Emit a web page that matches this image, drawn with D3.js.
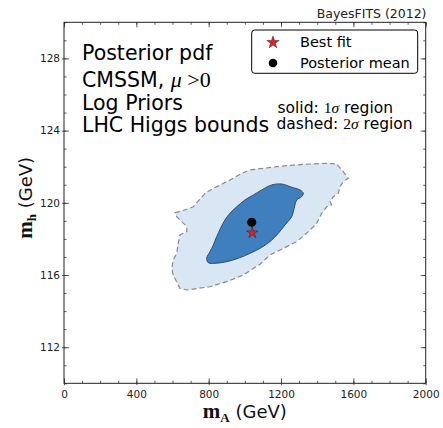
<!DOCTYPE html>
<html>
<head>
<meta charset="utf-8">
<script src="https://cdn.jsdelivr.net/npm/d3@7"></script>
<style>
  html, body { margin: 0; padding: 0; background: #fff; }
  svg { display: block; }
</style>
</head>
<body>
<svg id="chart" width="443" height="428"></svg>
<script>
// ---------- DATA ----------
const xDomain = [0, 2000];
const yDomain = [110, 130];
const xTickValues = [0, 400, 800, 1200, 1600, 2000];
const yTickValues = [112, 116, 120, 124, 128];
const xMinorTicks = d3.range(0, 2001, 100);
const yMinorTicks = d3.range(110, 130.1, 1);

// 2 sigma region outline (mA, mh)
const outerMA = [614, 679, 715, 780, 826, 918, 983, 1029, 1176, 1268, 1360, 1453, 1508, 1536, 1572, 1544, 1526, 1517, 1489, 1471, 1480, 1453, 1425, 1397, 1351, 1287, 1213, 1139, 1084, 991, 900, 807, 679, 641, 604, 596, 604, 623, 632, 641, 679, 679, 623];
const outerMh = [119.45, 119.64, 119.78, 120.53, 120.80, 121.26, 121.63, 121.82, 122.00, 122.09, 122.15, 122.19, 122.15, 121.82, 121.36, 121.17, 120.89, 120.53, 120.34, 120.06, 119.88, 119.78, 119.42, 118.86, 118.40, 117.85, 117.48, 117.11, 116.60, 116.00, 115.63, 115.35, 115.17, 115.26, 116.00, 116.37, 116.83, 117.20, 117.76, 118.22, 118.40, 118.68, 119.23];

// 1 sigma region outline (mA, mh)
const innerMA = [1149, 1204, 1259, 1305, 1323, 1314, 1287, 1277, 1268, 1259, 1222, 1185, 1139, 1084, 1029, 964, 900, 835, 798, 789, 807, 826, 844, 890, 918, 955, 1001, 1047, 1093];
const innerMh = [120.99, 121.04, 120.86, 120.71, 120.53, 120.34, 120.16, 119.88, 119.51, 119.23, 118.77, 118.31, 117.85, 117.48, 117.20, 116.93, 116.74, 116.65, 116.68, 116.93, 117.29, 117.66, 118.12, 119.05, 119.42, 119.78, 120.16, 120.43, 120.71];

const bestFit = [1041, 118.34];
const posteriorMean = [1038, 118.92];

const titleLines = ["Posterior pdf", "CMSSM, ", "Log Priors", "LHC Higgs bounds"];
const legendLabels = ["Best fit", "Posterior mean"];

// ---------- LAYOUT ----------
const svg = d3.select("#chart");
const L = 64, R = 425.7, T = 22.3, B = 383.3;
const x = d3.scaleLinear().domain(xDomain).range([L, R]);
const y = d3.scaleLinear().domain(yDomain).range([B, T]);

const sans = "'DejaVu Sans', 'Bitstream Vera Sans', sans-serif";
const serif = "'Liberation Serif', 'DejaVu Serif', serif";

svg.append("text").attr("x", 426.5).attr("y", 18.3).attr("text-anchor", "end")
  .attr("font-family", sans).attr("font-size", 12.5).attr("fill", "#222")
  .text("BayesFITS (2012)");

// regions
svg.append("defs").append("clipPath").attr("id", "clip")
  .append("rect").attr("x", L).attr("y", T).attr("width", R - L).attr("height", B - T);
const plot = svg.append("g").attr("clip-path", "url(#clip)");

const outerPts = outerMA.map((v, i) => [v, outerMh[i]]);
const innerPts = innerMA.map((v, i) => [v, innerMh[i]]);
const lineOuter = d3.line().x(d => x(d[0])).y(d => y(d[1])).curve(d3.curveLinearClosed);
const lineInner = d3.line().x(d => x(d[0])).y(d => y(d[1])).curve(d3.curveCatmullRomClosed.alpha(0.5));

plot.append("path").attr("d", lineOuter(outerPts))
  .attr("fill", "#d9e6f4").attr("stroke", "#8a8a8a").attr("stroke-width", 1.2)
  .attr("stroke-dasharray", "5,3");
plot.append("path").attr("d", lineInner(innerPts))
  .attr("fill", "#3f7fbd").attr("stroke", "#2e4a68").attr("stroke-width", 1);

// markers
const star = d3.symbol().type(d3.symbolStar);
plot.append("circle").attr("cx", x(posteriorMean[0])).attr("cy", y(posteriorMean[1]))
  .attr("r", 4.6).attr("fill", "#000");
plot.append("path").attr("d", star.size(40)())
  .attr("transform", `translate(${x(bestFit[0])},${y(bestFit[1])})`)
  .attr("fill", "#d0262d").attr("stroke", "#5a0d0d").attr("stroke-width", 0.5);

// ---------- AXES ----------
function styleAxis(g) {
  g.select(".domain").remove();
  g.selectAll(".tick line").attr("stroke", "#333").attr("stroke-width", 0.8);
  g.selectAll(".tick text").attr("font-family", sans).attr("font-size", 10.5).attr("fill", "#222");
}
function tickOnly(g) {
  styleAxis(g);
  g.selectAll(".tick text").remove();
}
// minor ticks (inside, all four sides)
svg.append("g").attr("transform", `translate(0,${B})`)
  .call(d3.axisBottom(x).tickValues(xMinorTicks).tickSize(-2.5)).call(tickOnly);
svg.append("g").attr("transform", `translate(0,${T})`)
  .call(d3.axisTop(x).tickValues(xMinorTicks).tickSize(-2.5)).call(tickOnly);
svg.append("g").attr("transform", `translate(${L},0)`)
  .call(d3.axisLeft(y).tickValues(yMinorTicks).tickSize(-2.5)).call(tickOnly);
svg.append("g").attr("transform", `translate(${R},0)`)
  .call(d3.axisRight(y).tickValues(yMinorTicks).tickSize(-2.5)).call(tickOnly);
// major ticks with labels
svg.append("g").attr("transform", `translate(0,${B})`)
  .call(d3.axisBottom(x).tickValues(xTickValues).tickSize(-5).tickPadding(7).tickFormat(d3.format("d"))).call(styleAxis);
svg.append("g").attr("transform", `translate(${L},0)`)
  .call(d3.axisLeft(y).tickValues(yTickValues).tickSize(-5).tickPadding(4).tickFormat(d3.format("d"))).call(styleAxis);
svg.append("g").attr("transform", `translate(0,${T})`)
  .call(d3.axisTop(x).tickValues(xTickValues).tickSize(-5)).call(tickOnly);
svg.append("g").attr("transform", `translate(${R},0)`)
  .call(d3.axisRight(y).tickValues(yTickValues).tickSize(-5)).call(tickOnly);
// small outward stubs of major ticks
svg.append("g").attr("transform", `translate(0,${B})`)
  .call(d3.axisBottom(x).tickValues(xTickValues).tickSize(2)).call(tickOnly);
svg.append("g").attr("transform", `translate(${L},0)`)
  .call(d3.axisLeft(y).tickValues(yTickValues).tickSize(2)).call(tickOnly);

// frame
svg.append("rect").attr("x", L).attr("y", T).attr("width", R - L).attr("height", B - T)
  .attr("fill", "none").attr("stroke", "#222").attr("stroke-width", 1);

// axis labels
const xl = svg.append("text").attr("x", (L + R) / 2).attr("y", 417.5).attr("text-anchor", "middle").attr("fill", "#111");
xl.append("tspan").attr("font-family", serif).attr("font-weight", "bold").attr("font-size", 21).text("m");
xl.append("tspan").attr("font-family", serif).attr("font-weight", "bold").attr("font-size", 13).attr("dy", 4).text("A");
xl.append("tspan").attr("font-family", sans).attr("font-size", 18).attr("dy", -4).text(" (GeV)");

const yl = svg.append("text").attr("transform", `translate(32,${(T + B) / 2 - 5}) rotate(-90)`)
  .attr("text-anchor", "middle").attr("fill", "#111");
yl.append("tspan").attr("font-family", serif).attr("font-weight", "bold").attr("font-size", 21).text("m");
yl.append("tspan").attr("font-family", serif).attr("font-weight", "bold").attr("font-size", 13).attr("dy", 4).text("h");
yl.append("tspan").attr("font-family", sans).attr("font-size", 18).attr("dy", -4).text(" (GeV)");

// title block
const tb = svg.append("g").attr("font-family", sans).attr("font-size", 20.5).attr("fill", "#000");
tb.append("text").attr("x", 82).attr("y", 60).text(titleLines[0]);
const l2 = tb.append("text").attr("x", 82).attr("y", 86.5);
l2.append("tspan").text(titleLines[1]);
l2.append("tspan").attr("font-family", serif).attr("font-style", "italic").attr("font-size", 22).text("μ");
l2.append("tspan").attr("font-family", serif).attr("font-size", 22).text(" >0");
tb.append("text").attr("x", 82).attr("y", 109.5).text(titleLines[2]);
tb.append("text").attr("x", 82).attr("y", 131.5).text(titleLines[3]);

// solid/dashed note
const note = svg.append("g").attr("font-family", sans).attr("font-size", 15.5).attr("fill", "#000");
const n1 = note.append("text").attr("x", 277.5).attr("y", 112.7);
n1.append("tspan").text("solid: ");
n1.append("tspan").attr("font-family", serif).attr("font-size", 15.5).text("1");
n1.append("tspan").attr("font-family", serif).attr("font-style", "italic").attr("font-size", 15.5).text("σ");
n1.append("tspan").text(" region");
const n2 = note.append("text").attr("x", 276.5).attr("y", 129.3);
n2.append("tspan").text("dashed: ");
n2.append("tspan").attr("font-family", serif).attr("font-size", 15.5).text("2");
n2.append("tspan").attr("font-family", serif).attr("font-style", "italic").attr("font-size", 15.5).text("σ");
n2.append("tspan").text(" region");

// legend
const lg = svg.append("g");
lg.append("rect").attr("x", 251.7).attr("y", 30).attr("width", 166).attr("height", 43.3)
  .attr("rx", 3).attr("fill", "#fff").attr("stroke", "#000").attr("stroke-width", 1);
lg.append("path").attr("d", star.size(48)()).attr("transform", "translate(273,42.5)")
  .attr("fill", "#d0262d").attr("stroke", "#5a0d0d").attr("stroke-width", 0.5);
lg.append("circle").attr("cx", 273).attr("cy", 63).attr("r", 4.3).attr("fill", "#000");
lg.append("text").attr("x", 300).attr("y", 47).attr("font-family", sans).attr("font-size", 14.5).text(legendLabels[0]);
lg.append("text").attr("x", 300).attr("y", 68.3).attr("font-family", sans).attr("font-size", 14.5).text(legendLabels[1]);
</script>
</body>
</html>
